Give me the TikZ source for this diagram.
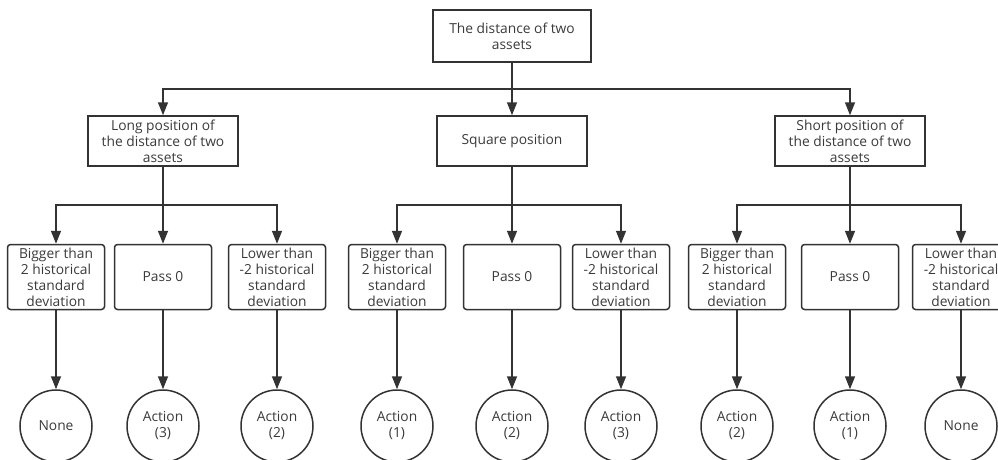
\documentclass[tikz,border=0pt]{standalone}
\usepackage{fontspec}
\setmainfont{Open Sans}
\usetikzlibrary{arrows.meta}
\definecolor{ink}{HTML}{333333}
\definecolor{txt}{HTML}{3A3A3A}
\begin{document}
\begin{tikzpicture}[x=1pt,y=-1pt,
  every node/.style={font=\fontsize{13.8}{16}\selectfont, text=txt, align=center, inner sep=0pt},
  plainbox/.style={draw=ink, line width=1.5pt, rectangle},
  rootbox/.style={plainbox, minimum width=158pt, minimum height=52pt},
  posbox/.style={plainbox, minimum width=150pt, minimum height=50pt},
  condbox/.style={draw=ink, line width=1.5pt, rectangle, rounded corners=3pt, minimum width=97pt, minimum height=65pt},
  result/.style={draw=ink, line width=1.5pt, circle, minimum size=72pt},
  link/.style={draw=ink, line width=1.5pt},
  arr/.style={link, -{Triangle[length=13pt,width=10pt]}}
]
\useasboundingbox (0,0) rectangle (998,460);

% root
\node[rootbox] (root) at (512,36) {The distance of two\\assets};

% positions
\node[posbox] (long)  at (163,141) {Long position of\\the distance of two\\assets};
\node[posbox] (sq)    at (512,141) {Square position};
\node[posbox] (short) at (850,141) {Short position of\\the distance of two\\assets};

% conditions
\node[condbox] (l1) at (56,277)  {Bigger than\\2 historical\\standard\\deviation};
\node[condbox] (l2) at (163,277) {Pass 0};
\node[condbox] (l3) at (277,277) {Lower than\\-2 historical\\standard\\deviation};
\node[condbox] (m1) at (397,277) {Bigger than\\2 historical\\standard\\deviation};
\node[condbox] (m2) at (512,277) {Pass 0};
\node[condbox] (m3) at (621,277) {Lower than\\-2 historical\\standard\\deviation};
\node[condbox] (r1) at (737,277) {Bigger than\\2 historical\\standard\\deviation};
\node[condbox] (r2) at (850,277) {Pass 0};
\node[condbox] (r3) at (961,277) {Lower than\\-2 historical\\standard\\deviation};

% outcomes
\node[result] (o1) at (56,426)  {None};
\node[result] (o2) at (163,426) {Action\\(3)};
\node[result] (o3) at (277,426) {Action\\(2)};
\node[result] (o4) at (397,426) {Action\\(1)};
\node[result] (o5) at (512,426) {Action\\(2)};
\node[result] (o6) at (621,426) {Action\\(3)};
\node[result] (o7) at (737,426) {Action\\(2)};
\node[result] (o8) at (850,426) {Action\\(1)};
\node[result] (o9) at (961,426) {None};

% junctions
\coordinate (j0) at (512,89);
\coordinate (jl) at (163,205);
\coordinate (jm) at (512,205);
\coordinate (jr) at (850,205);

% root to positions
\draw[arr] (root) -- (sq);
\draw[arr] (j0) -| (long);
\draw[arr] (j0) -| (short);

% positions to conditions
\draw[link] (long) -- (jl);
\draw[arr] (jl) -| (l1);
\draw[arr] (jl) -- (l2);
\draw[arr] (jl) -| (l3);
\draw[link] (sq) -- (jm);
\draw[arr] (jm) -| (m1);
\draw[arr] (jm) -- (m2);
\draw[arr] (jm) -| (m3);
\draw[link] (short) -- (jr);
\draw[arr] (jr) -| (r1);
\draw[arr] (jr) -- (r2);
\draw[arr] (jr) -| (r3);

% conditions to outcomes
\foreach \a/\b in {l1/o1,l2/o2,l3/o3,m1/o4,m2/o5,m3/o6,r1/o7,r2/o8,r3/o9}
  \draw[arr] (\a) -- (\a |- \b.north);
\end{tikzpicture}
\end{document}
